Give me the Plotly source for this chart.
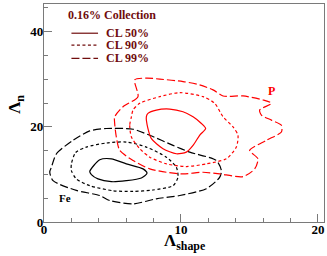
import plotly.graph_objects as go

# ---- data ----
fe50_x = [3.34, 4.07, 4.92, 6.01, 7.23, 7.52, 7.11, 6.01, 4.92, 3.94, 3.46, 3.34]
fe50_y = [10.6, 13.07, 13.28, 12.22, 11.16, 10.23, 9.26, 8.69, 8.47, 9.05, 9.96, 10.6]

fe90_x = [2.0, 2.31, 3.09, 4.55, 6.01, 7.47, 8.93, 9.66, 9.78, 9.42, 7.96, 6.5, 5.04, 3.34, 2.36, 2.0, 2.0]
fe90_y = [12.22, 14.6, 15.74, 16.59, 16.8, 15.74, 13.62, 11.5, 9.39, 7.63, 6.72, 6.42, 6.57, 7.63, 9.05, 10.8, 12.22]

fe99_x = [0.54, 0.91, 2.12, 3.34, 4.55, 6.5, 7.72, 9.42, 10.64, 12.58, 12.95, 12.82, 11.85,
          9.91, 8.2, 6.5, 4.8, 4.07, 2.36, 0.66, 0.42, 0.54]
fe99_y = [11.5, 14.34, 17.16, 19.13, 19.64, 19.49, 18.22, 16.1, 14.68, 12.92, 10.8, 9.39, 6.99,
          5.57, 4.87, 3.81, 4.51, 5.57, 6.63, 8.69, 10.53, 11.5]

p50_x = [7.47, 7.59, 7.84, 8.69, 9.66, 10.39, 10.88, 11.36, 11.8, 11.49, 10.88, 10.15, 9.18, 8.2, 7.59, 7.47]
p50_y = [22.1, 19.64, 17.52, 15.4, 14.34, 14.68, 16.1, 18.22, 19.64, 20.7, 22.1, 23.16, 23.73, 23.52, 22.82, 22.1]

p90_x = [6.38, 6.26, 6.38, 6.99, 7.72, 8.93, 10.39, 11.85, 13.31, 14.04, 14.16, 13.8, 13.07,
         12.46, 11.61, 9.91, 8.45, 6.99, 6.5, 6.38]
p90_y = [22.1, 20.34, 17.86, 15.4, 13.62, 12.22, 11.65, 12.22, 13.28, 15.74, 18.22, 19.98, 22.1,
         24.94, 26.33, 27.18, 26.33, 24.94, 23.52, 22.1]

p99_x = [6.62, 6.86, 5.77, 5.16, 5.16, 5.28, 5.53, 6.5, 7.72, 8.93, 10.15, 11.61, 12.82, 14.53,
         15.38, 15.62, 15.01, 16.23, 17.33, 17.33, 16.6, 15.87, 15.74, 16.6, 15.99, 14.53, 13.07,
         12.34, 11.36, 10.15, 8.45, 7.47, 6.62]
p99_y = [29.87, 26.33, 24.22, 22.1, 20.7, 17.86, 15.04, 12.92, 11.16, 10.45, 10.11, 10.45, 10.11, 9.53,
         11.16, 13.28, 15.04, 17.16, 18.92, 20.34, 21.4, 22.46, 23.52, 24.94, 25.64, 26.48, 26.48,
         27.75, 28.81, 29.51, 30.02, 30.23, 29.87]

legend_title = "0.16% Collection"
legend_labels = ["CL 50%", "CL 90%", "CL 99%"]
x_ticks = [0, 10, 20]
y_ticks = [0, 20, 40]
x_title = "Λ<sub>shape</sub>"
y_title = "Λ<sub>n</sub>"
fe_label = ("Fe", 1.51, 5.0)
p_label = ("P", 16.58, 27.6)

# ---- styles ----
SERIF = "Liberation Serif, Times New Roman, serif"
MAROON = "#700d0d"
DASHES = ["solid", "3px,2.5px", "8px,3px"]
AXIS_GRAY = "#7a7a7a"

fig = go.Figure()

def add_contour(x, y, color, dash):
    fig.add_trace(go.Scatter(x=x, y=y, mode="lines", showlegend=False, hoverinfo="skip",
                             line=dict(color=color, width=1.2, dash=dash,
                                       shape="spline", smoothing=0.7)))

for (xs, ys), d in zip([(fe50_x, fe50_y), (fe90_x, fe90_y), (fe99_x, fe99_y)], DASHES):
    add_contour(xs, ys, "black", d)
for (xs, ys), d in zip([(p50_x, p50_y), (p90_x, p90_y), (p99_x, p99_y)], DASHES):
    add_contour(xs, ys, "#ff0000", d)

# ---- legend drawn as shapes + annotations ----
leg_ys = [0.866, 0.811, 0.751]
fig.add_annotation(text="<b>%s</b>" % legend_title, xref="paper", yref="paper",
                   x=0.08, y=0.951, xanchor="left", yanchor="middle", showarrow=False,
                   font=dict(family=SERIF, size=12, color=MAROON))
for lbl, ly, d in zip(legend_labels, leg_ys, DASHES):
    fig.add_shape(type="line", xref="paper", yref="paper", x0=0.098, x1=0.193, y0=ly, y1=ly,
                  line=dict(color=MAROON, width=1.2, dash=d))
    fig.add_annotation(text="<b>%s</b>" % lbl, xref="paper", yref="paper",
                       x=0.213, y=ly, xanchor="left", yanchor="middle", showarrow=False,
                       font=dict(family=SERIF, size=12, color=MAROON))

fig.add_annotation(text="<b>%s</b>" % fe_label[0], x=fe_label[1], y=fe_label[2], showarrow=False,
                   font=dict(family=SERIF, size=11, color="black"))
fig.add_annotation(text="<b>%s</b>" % p_label[0], x=p_label[1], y=p_label[2], showarrow=False,
                   font=dict(family=SERIF, size=12, color="#ff0000"))

# axis titles as annotations
fig.add_annotation(text="<b>%s</b>" % x_title, xref="paper", yref="paper", x=0.5, y=-0.09,
                   xanchor="center", yanchor="middle", showarrow=False,
                   font=dict(family=SERIF, size=17, color="black"))
fig.add_annotation(text="<b>%s</b>" % y_title, xref="paper", yref="paper", x=-0.098, y=0.54,
                   xanchor="center", yanchor="middle", showarrow=False, textangle=-90,
                   font=dict(family=SERIF, size=17, color="black"))

axis_common = dict(showgrid=False, zeroline=False, showline=True, mirror=True, automargin=False,
                   linecolor=AXIS_GRAY, linewidth=1.3, ticks="inside", ticklen=8,
                   tickwidth=1, tickcolor=AXIS_GRAY,
                   tickfont=dict(family=SERIF, size=13, color="black", weight="bold"))

fig.update_xaxes(range=[0, 20.44], tickvals=x_ticks, ticklabelstandoff=-5,
                 minor=dict(dtick=2, ticklen=4, ticks="inside", tickcolor=AXIS_GRAY),
                 **axis_common)
fig.update_yaxes(range=[0, 45.8], tickvals=y_ticks, ticklabelstandoff=-3,
                 minor=dict(dtick=5, ticklen=4, ticks="inside", tickcolor=AXIS_GRAY),
                 **axis_common)

fig.update_layout(width=327, height=256, margin=dict(l=44, r=3, t=4, b=34, autoexpand=False),
                  plot_bgcolor="white", paper_bgcolor="white", showlegend=False)

fig.write_html("out.html", config={"displayModeBar": False},
               post_script="document.body.style.margin='0';")
